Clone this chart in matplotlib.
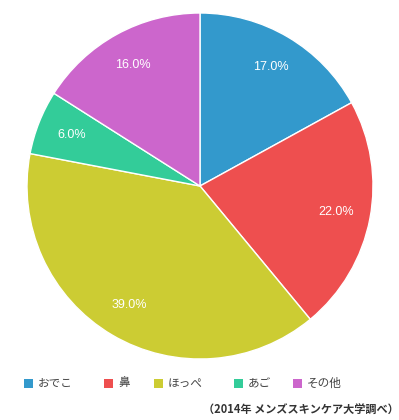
import matplotlib

matplotlib.use("Agg")
import matplotlib.pyplot as plt
from matplotlib.patches import Rectangle

plt.rcParams["font.family"] = ["Noto Sans CJK JP", "DejaVu Sans"]

categories = ["おでこ", "鼻", "ほっぺ", "あご", "その他"]
shares = [17.0, 22.0, 39.0, 6.0, 16.0]
colors = ["#3399cc", "#ee4f4f", "#cccc33", "#33cc99", "#cc66cc"]
source_note = "（2014年 メンズスキンケア大学調べ）"

# left edge (px) of each legend swatch, as laid out in the original
legend_x = [24, 104, 154, 234, 293]

W, H = 399, 420
figure = plt.figure(figsize=(W / 100, H / 100), dpi=100)
axis = figure.add_axes([27 / W, 61 / H, 346 / W, 346 / H])

wedges, _, autotexts = axis.pie(
    shares,
    colors=colors,
    startangle=90,
    counterclock=False,
    autopct="%.1f%%",
    pctdistance=0.8,
    wedgeprops={"edgecolor": "white", "linewidth": 1},
    textprops={"color": "white", "fontsize": 9, "family": ["Liberation Sans"]},
)
axis.set_xlim(-1, 1)
axis.set_ylim(-1, 1)
axis.set_aspect("equal")

# legend drawn by hand so the spacing follows the original
for x, label, color in zip(legend_x, categories, colors):
    figure.patches.append(
        Rectangle((x / W, 1 - 388 / H), 9 / W, 9 / H,
                  transform=figure.transFigure, facecolor=color, edgecolor="none")
    )
    figure.text((x + 14) / W, 1 - 383.5 / H, label,
                ha="left", va="center", fontsize=8.4, color="#444444")

figure.text(
    399 / W, 1 - 410 / H, source_note,
    ha="right", va="center", fontsize=8, fontweight="bold", color="#333333",
)

figure.savefig("out.png", dpi=100)
plt.close(figure)
